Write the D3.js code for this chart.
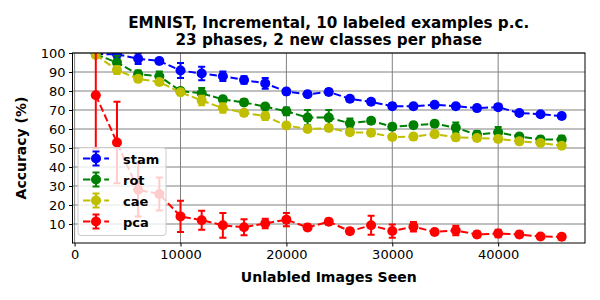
<!DOCTYPE html>
<html><head><meta charset="utf-8">
<script src="https://cdn.jsdelivr.net/npm/d3@7"></script>
<style>
body{margin:0;background:#fff}
svg{display:block}
text{font-family:"DejaVu Sans",sans-serif}
</style>
</head><body>
<svg id="c" width="600" height="300"></svg>
<script>
// ---- data ----
const imagesSeen = [2000,4000,6000,8000,10000,12000,14000,16000,18000,20000,22000,24000,26000,28000,30000,32000,34000,36000,38000,40000,42000,44000,46000];
const stamMean = [99.5,99.3,97.0,95.8,90.8,89.2,87.8,85.8,84.0,79.7,78.3,79.5,75.9,74.3,72.0,72.0,72.8,72.0,71.0,71.5,68.4,67.8,66.8];
const stamErr  = [1.0,2.0,2.8,1.5,4.0,3.5,2.5,2.0,2.8,1.5,1.5,1.5,1.3,1.3,1.5,1.3,1.2,1.3,1.2,1.3,1.2,1.2,1.2];
const rotMean  = [99.3,95.0,88.8,87.8,80.0,78.8,75.6,74.0,71.8,69.3,66.0,66.0,63.0,64.3,61.2,62.0,62.8,60.7,57.0,58.3,56.0,54.5,54.5];
const rotErr   = [1.0,3.5,2.0,2.5,1.5,2.8,1.5,1.5,1.5,2.0,4.0,4.0,2.5,1.5,1.5,1.5,1.5,2.7,2.0,2.8,1.5,1.5,2.0];
const caeMean  = [99.0,91.0,86.4,84.7,79.3,75.0,71.0,68.5,66.8,61.8,60.0,60.5,58.3,58.0,55.8,56.0,57.3,55.6,55.3,54.8,53.5,52.6,51.2];
const caeErr   = [1.5,2.0,1.5,1.5,1.5,2.5,2.5,1.5,2.0,1.5,1.5,1.5,1.5,1.5,1.5,1.5,1.5,1.5,1.5,1.5,1.5,1.2,1.2];
const pcaMean  = [77.8,52.9,28.0,25.8,14.0,12.0,9.3,8.3,10.3,12.3,8.2,11.2,6.2,9.3,6.3,8.6,5.8,6.6,4.5,5.0,4.5,3.4,3.3];
const pcaErr   = [28,21.5,14,8.7,8.2,5,6.5,4.2,2.5,3.5,1.5,1.5,1.5,5,3.5,2.5,1.5,2.5,1.5,2,1.5,1,1.5];
const seriesNames = ["stam","rot","cae","pca"];
const xTicks = [0,10000,20000,30000,40000];
const yTicks = [10,20,30,40,50,60,70,80,90,100];
const titleLines = ["EMNIST, Incremental, 10 labeled examples p.c.","23 phases, 2 new classes per phase"];

// ---- build ----
const colors = {stam:"#0000ff", rot:"#008000", cae:"#bfbf00", pca:"#ff0000"};
const series = [
  {name:"stam", mean:stamMean, err:stamErr},
  {name:"rot", mean:rotMean, err:rotErr},
  {name:"cae", mean:caeMean, err:caeErr},
  {name:"pca", mean:pcaMean, err:pcaErr}
];
const L=72.5, R=585, T=53, B=243;
const x = d3.scaleLinear([-200,48200],[L,R]);
const y = d3.scaleLinear([0,100],[B,T]);
const svg = d3.select("#c");

svg.append("defs").append("clipPath").attr("id","clip")
  .append("rect").attr("x",L).attr("y",T).attr("width",R-L).attr("height",B-T);

// grid
const grid = svg.append("g");
grid.selectAll(".gx").data(xTicks).join("line")
  .attr("x1",d=>x(d)).attr("x2",d=>x(d)).attr("y1",T).attr("y2",B)
  .attr("stroke","#808080").attr("stroke-width",1);
grid.selectAll(".gy").data(yTicks).join("line")
  .attr("x1",L).attr("x2",R).attr("y1",d=>y(d)).attr("y2",d=>y(d))
  .attr("stroke","#808080").attr("stroke-width",1);

// series
const plot = svg.append("g").attr("clip-path","url(#clip)");
series.forEach(s=>{
  const c = colors[s.name];
  const pts = imagesSeen.map((v,i)=>({x:v, m:s.mean[i], e:s.err[i]}));
  const g = plot.append("g");
  g.append("path").datum(pts)
    .attr("d", d3.line().x(d=>x(d.x)).y(d=>y(d.m)))
    .attr("fill","none").attr("stroke",c).attr("stroke-width",2)
    .attr("stroke-dasharray","7.4,3.2");
  g.selectAll(".eb").data(pts).join("line").attr("class","eb")
    .attr("x1",d=>x(d.x)).attr("x2",d=>x(d.x))
    .attr("y1",d=>y(d.m+d.e)).attr("y2",d=>y(d.m-d.e))
    .attr("stroke",c).attr("stroke-width",2);
  [1,-1].forEach((sg,k)=>{
    g.selectAll(".cap"+k).data(pts).join("line").attr("class","cap"+k)
      .attr("x1",d=>x(d.x)-3.5).attr("x2",d=>x(d.x)+3.5)
      .attr("y1",d=>y(d.m+sg*d.e)).attr("y2",d=>y(d.m+sg*d.e))
      .attr("stroke",c).attr("stroke-width",2);
  });
  g.selectAll(".mk").data(pts).join("circle").attr("class","mk")
    .attr("cx",d=>x(d.x)).attr("cy",d=>y(d.m)).attr("r",5).attr("fill",c);
});

// axes
const xAxis = svg.append("g").attr("transform",`translate(0,${B})`)
  .call(d3.axisBottom(x).tickValues(xTicks).tickFormat(d3.format("d")).tickSize(3.5).tickPadding(3.5));
const yAxis = svg.append("g").attr("transform",`translate(${L},0)`)
  .call(d3.axisLeft(y).tickValues(yTicks).tickSize(3.5).tickPadding(3.5));
[xAxis,yAxis].forEach(a=>{
  a.select(".domain").remove();
  a.selectAll("text").attr("font-size",13).attr("fill","#000").attr("font-family","DejaVu Sans");
  a.selectAll("line").attr("stroke","#000");
});
svg.append("rect").attr("x",L).attr("y",T).attr("width",R-L).attr("height",B-T)
  .attr("fill","none").attr("stroke","#000").attr("stroke-width",1);

// labels
svg.append("text").attr("x",(L+R)/2).attr("y",282).attr("text-anchor","middle")
  .attr("font-size",14).attr("font-weight","bold").text("Unlabled Images Seen");
svg.append("text").attr("transform",`translate(26,${(T+B)/2}) rotate(-90)`).attr("text-anchor","middle")
  .attr("font-size",14).attr("font-weight","bold").text("Accuracy (%)");
svg.selectAll(".title").data(titleLines).join("text").attr("class","title")
  .attr("x",(L+R)/2).attr("y",(d,i)=>27.5+i*17).attr("text-anchor","middle")
  .attr("font-size",15.2).attr("font-weight","bold").text(d=>d);

// legend
const lg = svg.append("g");
lg.append("rect").attr("x",78).attr("y",147.5).attr("width",88).attr("height",88).attr("rx",3)
  .attr("fill","#fff").attr("fill-opacity",0.8).attr("stroke","#ccc").attr("stroke-width",1);
series.forEach((s,i)=>{
  const c = colors[s.name];
  const cy = 158.5 + i*21;
  const e = lg.append("g");
  e.append("line").attr("x1",83).attr("x2",109).attr("y1",cy).attr("y2",cy)
    .attr("stroke",c).attr("stroke-width",2).attr("stroke-dasharray","7.4,3.2");
  e.append("line").attr("x1",96).attr("x2",96).attr("y1",cy-7).attr("y2",cy+7).attr("stroke",c).attr("stroke-width",2);
  [cy-7,cy+7].forEach(yy=>e.append("line").attr("x1",92.5).attr("x2",99.5).attr("y1",yy).attr("y2",yy).attr("stroke",c).attr("stroke-width",2));
  e.append("circle").attr("cx",96).attr("cy",cy).attr("r",5).attr("fill",c);
  e.append("text").attr("x",123).attr("y",cy+5).attr("font-size",13).attr("font-weight","bold").text(s.name);
});
</script>
</body></html>
